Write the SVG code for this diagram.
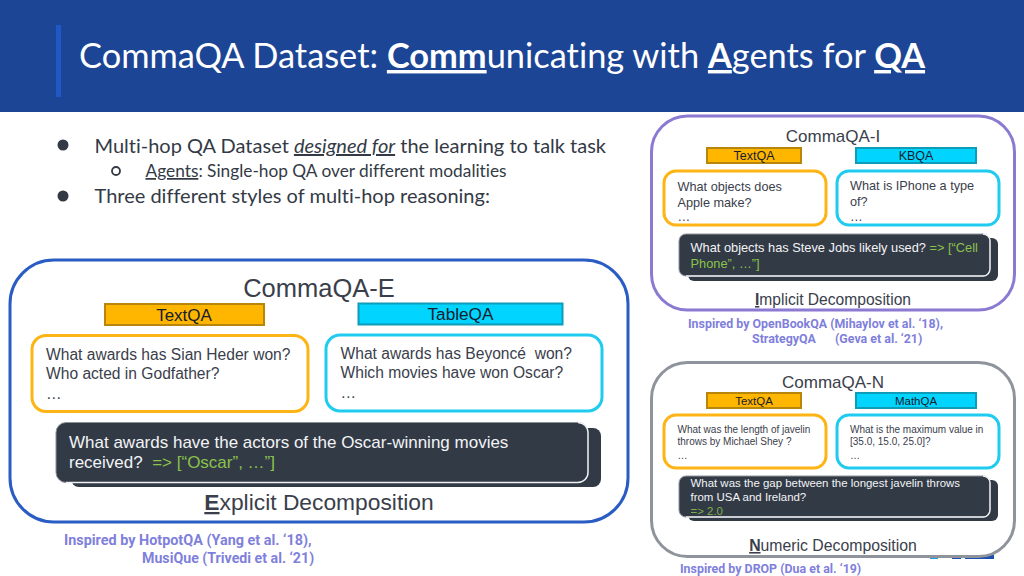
<svg xmlns="http://www.w3.org/2000/svg" width="1024" height="576" viewBox="0 0 1024 576">
<style>
.l{font-family:Lato,"Liberation Sans",sans-serif;font-variant-ligatures:none}
.a{font-family:"Liberation Sans",Arial,sans-serif;fill:#3a404b}
.w{fill:#f2f4f6}
.g{fill:#8bc34a}
.t{fill:#16202c;text-anchor:middle}
.i{font-family:Roboto,"Liberation Sans",sans-serif;font-weight:700;fill:#7f7fdc;font-size:12.400px}
.or{fill:#ffb600;stroke:#b8860b;stroke-width:2}
.cy{fill:#00d4ff;stroke:#0f9cb8;stroke-width:2}
.qo{fill:#fff;stroke:#fdb515;stroke-width:3}
.qc{fill:#fff;stroke:#1fcbef;stroke-width:3}
.d{fill:#323a46}
.f{fill:#323a46;stroke:#8d939b;stroke-width:1}
.e{fill:none;stroke:#eef0f2;stroke-width:1.400}
</style>
<rect width="1024" height="576" fill="#fff"/>
<g id="header">
<rect width="1024" height="112" fill="#1c4595"/>
<rect x="56" y="25" width="5" height="72" fill="#2058c8"/>
<text class="l" x="79" y="68" font-size="34.400" fill="#fff">CommaQA Dataset: <tspan font-weight="700" text-decoration="underline">Comm</tspan>unicating with <tspan font-weight="700" text-decoration="underline">A</tspan>gents for <tspan font-weight="700" text-decoration="underline">QA</tspan></text>
</g>
<g id="bullets">
<circle cx="63" cy="145" r="5.500" fill="#333a45"/>
<text class="l" x="94.500" y="153" font-size="20" fill="#333a45">Multi-hop QA Dataset <tspan font-style="italic" text-decoration="underline">designed for</tspan> the learning to talk task</text>
<circle cx="116" cy="171" r="4" fill="none" stroke="#333a45" stroke-width="1.800"/>
<text class="l" x="145.500" y="177" font-size="17.300" fill="#333a45"><tspan text-decoration="underline">Agents</tspan>: Single-hop QA over different modalities</text>
<circle cx="63" cy="196" r="5.500" fill="#333a45"/>
<text class="l" x="94.500" y="203" font-size="20" fill="#333a45">Three different styles of multi-hop reasoning:</text>
</g>
<g id="logo-remnant"><rect x="930" y="555" width="8" height="4" fill="#1e9be0"/><rect x="952" y="555" width="9" height="4" fill="#1c4fb0"/><rect x="965" y="553" width="29" height="6" fill="#1c4fb0"/></g>

<g id="commaqa-e">
<rect x="10" y="260" width="618" height="262" rx="44" fill="#fff" stroke="#2a5dc4" stroke-width="3"/>
<text class="a" x="319" y="297" font-size="25.500" text-anchor="middle">CommaQA-E</text>
<rect class="or" x="105" y="304" width="159" height="21"/><text class="a t" x="184" y="321" font-size="17">TextQA</text>
<rect class="cy" x="358.500" y="303.500" width="204" height="21"/><text class="a t" x="460.500" y="320" font-size="17.200">TableQA</text>
<rect class="qo" x="32" y="335.500" width="276" height="76" rx="14"/>
<text class="a" x="46" y="360" font-size="15.600">What awards has Sian Heder won?</text>
<text class="a" x="46" y="379" font-size="15.600">Who acted in Godfather?</text>
<text class="a" x="46" y="399" font-size="15.600">…</text>
<rect class="qc" x="326" y="335" width="276" height="76" rx="14"/>
<text class="a" x="340.500" y="359" font-size="15.600">What awards has Beyoncé &#160;won?</text>
<text class="a" x="340.500" y="378" font-size="15.600">Which movies have won Oscar?</text>
<text class="a" x="340.500" y="398" font-size="15.600">…</text>
<rect class="d" x="71" y="428" width="530" height="59" rx="8"/>
<rect class="f" x="56" y="422.500" width="532" height="60" rx="10"/>
<path class="e" d="M578 422.500a10 10 0 0 1 10 10v40a10 10 0 0 1-10 10H66"/>
<text class="a w" x="69" y="448" font-size="17">What awards have the actors of the Oscar-winning movies</text>
<text class="a" x="69" y="468" font-size="17"><tspan class="w">received?&#160; </tspan><tspan class="g">=&gt; [“Oscar”, …”]</tspan></text>
<text class="a" x="319" y="510" font-size="22.800" text-anchor="middle"><tspan font-weight="700" text-decoration="underline">E</tspan>xplicit Decomposition</text>
</g>
<text class="i" style="font-size:14.400px" x="64" y="545">Inspired by HotpotQA (Yang et al. ‘18),</text>
<text class="i" style="font-size:14.200px" x="142" y="563">MusiQue (Trivedi et al. ‘21)</text>

<g id="commaqa-i">
<rect x="651.500" y="116" width="363" height="194" rx="36" fill="#fff" stroke="#8b79d2" stroke-width="3"/>
<text class="a" x="833" y="142" font-size="17" text-anchor="middle">CommaQA-I</text>
<rect class="or" x="707" y="148" width="94" height="15"/><text class="a t" x="754" y="160" font-size="12.500">TextQA</text>
<rect class="cy" x="856" y="148" width="120" height="15"/><text class="a t" x="916" y="160" font-size="12.500">KBQA</text>
<rect class="qo" x="664" y="171" width="162" height="54" rx="12"/>
<text class="a" x="677.500" y="191" font-size="12.700">What objects does</text>
<text class="a" x="677.500" y="207" font-size="12.700">Apple make?</text>
<text class="a" x="677.500" y="221" font-size="12.700">…</text>
<rect class="qc" x="837" y="171" width="162" height="54" rx="12"/>
<text class="a" x="850" y="190" font-size="12.700">What is IPhone a type</text>
<text class="a" x="850" y="206" font-size="12.700">of?</text>
<text class="a" x="850" y="221" font-size="12.700">…</text>
<rect class="d" x="688" y="238" width="310" height="43" rx="6"/>
<rect class="f" x="679" y="234" width="311" height="42" rx="7"/>
<path class="e" d="M983 234a7 7 0 0 1 7 7v28a7 7 0 0 1-7 7H686"/>
<text class="a" x="690.500" y="252" font-size="12.800"><tspan class="w">What objects has Steve Jobs likely used? </tspan><tspan class="g">=&gt; [“Cell</tspan></text>
<text class="a g" x="690.500" y="268" font-size="12.800">Phone”, …”]</text>
<text class="a" x="833" y="305" font-size="15.600" text-anchor="middle"><tspan font-weight="700" text-decoration="underline">I</tspan>mplicit Decomposition</text>
</g>
<text class="i" x="688" y="328">Inspired by OpenBookQA (Mihaylov et al. ‘18),</text>
<text class="i" x="752" y="343">StrategyQA</text><text class="i" x="835" y="343">(Geva et al. ‘21)</text>

<g id="commaqa-n">
<rect x="651.500" y="362.500" width="363" height="194" rx="36" fill="#fff" stroke="#8e939c" stroke-width="3"/>
<text class="a" x="833" y="388" font-size="17" text-anchor="middle">CommaQA-N</text>
<rect class="or" x="707" y="393" width="94" height="15"/><text class="a t" x="754" y="405" font-size="11.500">TextQA</text>
<rect class="cy" x="856" y="393" width="120" height="15"/><text class="a t" x="916" y="405" font-size="11.500">MathQA</text>
<rect class="qo" x="664" y="415" width="162" height="53" rx="12"/>
<text class="a" x="677.500" y="433" font-size="10">What was the length of javelin</text>
<text class="a" x="677.500" y="445" font-size="10">throws by Michael Shey ?</text>
<text class="a" x="677.500" y="459" font-size="10">…</text>
<rect class="qc" x="837" y="415" width="162" height="53" rx="12"/>
<text class="a" x="850" y="432.500" font-size="10">What is the maximum value in</text>
<text class="a" x="850" y="445" font-size="10">[35.0, 15.0, 25.0]?</text>
<text class="a" x="850" y="459" font-size="10">…</text>
<rect class="d" x="688" y="480" width="310" height="41" rx="6"/>
<rect class="f" x="679" y="476" width="311" height="41" rx="7"/>
<path class="e" d="M983 476a7 7 0 0 1 7 7v27a7 7 0 0 1-7 7H686"/>
<text class="a w" x="690.500" y="487" font-size="11.450">What was the gap between the longest javelin throws</text>
<text class="a w" x="690.500" y="501" font-size="11.450">from USA and Ireland?</text>
<text class="a g" x="690.500" y="515" font-size="11.450" opacity=".85">=&gt; 2.0</text>
<text class="a" x="833" y="551" font-size="15.800" text-anchor="middle"><tspan font-weight="700" text-decoration="underline">N</tspan>umeric Decomposition</text>
</g>
<text class="i" x="680" y="573">Inspired by DROP (Dua et al. ‘19)</text>
</svg>
